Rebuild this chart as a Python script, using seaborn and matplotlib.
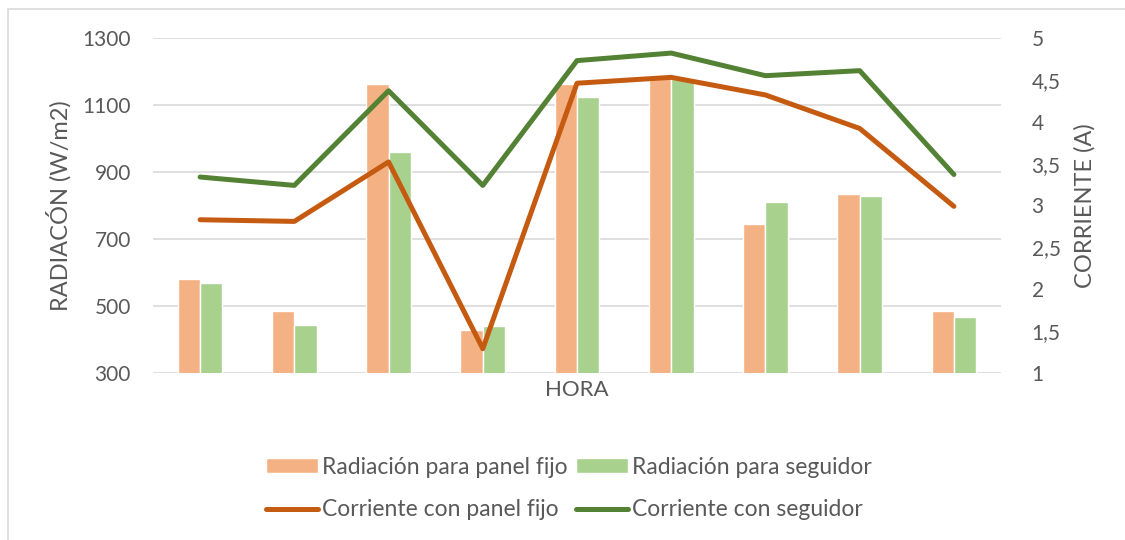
import numpy as np
import pandas as pd
import matplotlib
matplotlib.use("Agg")
import matplotlib.pyplot as plt
from matplotlib.patches import Patch, Rectangle
from matplotlib.lines import Line2D
import seaborn as sns

# Hourly measurements (category labels are not shown on the axis)
horas = ["H1", "H2", "H3", "H4", "H5", "H6", "H7", "H8", "H9"]
rad_fijo = [580, 484, 1163, 429, 1162, 1182, 745, 834, 485]
rad_seguidor = [570, 443, 960, 439, 1124, 1178, 810, 829, 466]
corr_fijo = [2.83, 2.81, 3.52, 1.29, 4.46, 4.53, 4.32, 3.92, 2.99]
corr_seguidor = [3.34, 3.24, 4.37, 3.24, 4.73, 4.82, 4.55, 4.61, 3.37]

left_ticks = [300, 500, 700, 900, 1100, 1300]
right_ticks = [1, 1.5, 2, 2.5, 3, 3.5, 4, 4.5, 5]

serie_rad_fijo = "Radiación para panel fijo"
serie_rad_seg = "Radiación para seguidor"
serie_corr_fijo = "Corriente con panel fijo"
serie_corr_seg = "Corriente con seguidor"

c_bar_fijo = "#F4B183"
c_bar_seg = "#A9D18E"
c_line_fijo = "#C55A11"
c_line_seg = "#548235"
txt = "#595959"
grid_c = "#D9D9D9"

sns.set_theme(style="white")
plt.rcParams["font.family"] = ["Lato", "DejaVu Sans"]

df = pd.DataFrame({
    "hora": horas * 2,
    "rad": rad_fijo + rad_seguidor,
    "serie": [serie_rad_fijo] * len(horas) + [serie_rad_seg] * len(horas),
})

fig = plt.figure(figsize=(11.25, 5.4), dpi=100)
fig.patches.append(Rectangle((8 / 1125, -0.1), 1.2, 1 - 9 / 540 + 0.1,
                             transform=fig.transFigure, fill=False,
                             edgecolor="#D9D9D9", linewidth=1.2))

ax = fig.add_axes([153 / 1125, 1 - 373 / 540, 848 / 1125, 335 / 540])
sns.barplot(data=df, x="hora", y="rad", hue="serie",
            palette=[c_bar_fijo, c_bar_seg], width=0.474,
            ax=ax, legend=False, saturation=1)
ax.set_ylim(300, 1300)
ax.set_xlim(-0.5, len(horas) - 0.5)
ax.set_yticks(left_ticks)
ax.yaxis.grid(True, color=grid_c, linewidth=1.2)
ax.set_axisbelow(True)
for s in ax.spines.values():
    s.set_visible(False)
ax.tick_params(axis="y", length=0, pad=16, labelsize=15, labelcolor=txt)
ax.tick_params(axis="x", length=0, labelbottom=False)
ax.set_xlabel("HORA", fontsize=16, color=txt, labelpad=5)
ax.set_ylabel("RADIACÓN (W/m2)", fontsize=17, color=txt, labelpad=8)

ax2 = ax.twinx()
x = np.arange(len(horas))
sns.lineplot(x=x, y=corr_fijo, ax=ax2, color=c_line_fijo, linewidth=3.6,
             solid_capstyle="round")
sns.lineplot(x=x, y=corr_seguidor, ax=ax2, color=c_line_seg, linewidth=3.6,
             solid_capstyle="round")
ax2.set_ylim(1, 5)
ax2.set_yticks(right_ticks)
ax2.set_yticklabels([("%g" % v).replace(".", ",") for v in right_ticks])
for s in ax2.spines.values():
    s.set_visible(False)
ax2.tick_params(axis="y", length=0, pad=22, labelsize=15, labelcolor=txt)
ax2.set_ylabel("CORRIENTE (A)", fontsize=17, color=txt, labelpad=10)
ax2.grid(False)

handles = [
    Patch(facecolor=c_bar_fijo, label=serie_rad_fijo),
    Line2D([], [], color=c_line_fijo, linewidth=3.6, solid_capstyle="round",
           label=serie_corr_fijo),
    Patch(facecolor=c_bar_seg, label=serie_rad_seg),
    Line2D([], [], color=c_line_seg, linewidth=3.6, solid_capstyle="round",
           label=serie_corr_seg),
]
leg = fig.legend(handles=handles, ncol=2, loc="upper center",
                 bbox_to_anchor=(569 / 1125, 1 - 436 / 540), frameon=False,
                 fontsize=16.5, handlelength=2.25, handleheight=0.6,
                 handletextpad=0.2, columnspacing=0.35, labelspacing=0.95)
for t in leg.get_texts():
    t.set_color(txt)

fig.savefig("out.png", dpi=100, facecolor="white")
